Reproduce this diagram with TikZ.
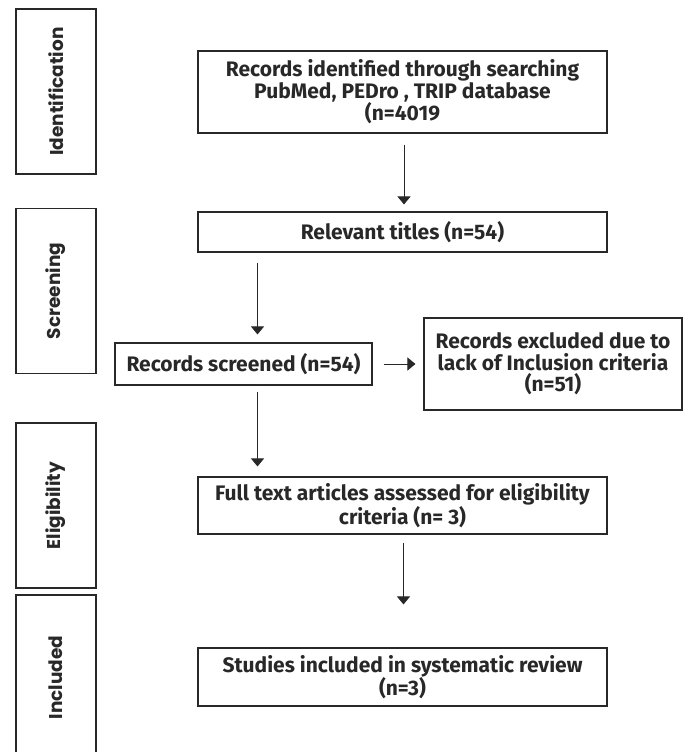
\documentclass[tikz,border=0pt]{standalone}
\usepackage{fontspec}
\setmainfont{Fira Sans}
\newfontfamily\phasefont{Poppins}
\usepackage{tikz}
\usetikzlibrary{arrows.meta,positioning}
\definecolor{ink}{RGB}{40,40,40}
\tikzset{
step_box/.style={
	% The shape:
	rectangle,
	% The border:
	draw=ink,
	line width=1.1pt,
	% The text:
	align=center,
	text=ink,
	inner sep=0pt,
	font=\fontsize{21}{21.5}\selectfont\bfseries
},
phase_box/.style={
	rectangle,
	draw=ink,
	line width=1.1pt,
	% text runs bottom to top
	rotate=90,
	minimum width=165pt,
	minimum height=80pt,
	text=ink,
	font=\phasefont\fontsize{18.5}{20}\selectfont\bfseries
},
flow_arrow/.style={
	draw=ink,
	line width=1pt,
	-{Triangle[length=8pt,width=13pt]}
}
}
\begin{document}
\begin{tikzpicture}[x=1pt,y=-1pt]
			\useasboundingbox (0,0) rectangle (683,752);
			\clip (0,0) rectangle (683,752);

			% phases on the left
			\node [phase_box] (identification) at (56, 91.5) {Identification};
			\node [phase_box] (screening) at (56, 291) {Screening};
			\node [phase_box] (eligibility) at (56, 505.5) {Eligibility};
			\node [phase_box] (included) at (56, 677.5) {Included};

			% steps
			\node [step_box, minimum width=409pt, minimum height=82pt] (records) at (402.5, 92)
				{Records identified through searching\\PubMed, PEDro , TRIP database\\(n=4019};
			\node [step_box, minimum width=409pt, minimum height=40pt] (titles) at (402.5, 232)
				{Relevant titles (n=54)};
			\node [step_box, minimum width=257pt, minimum height=42pt] (screened) at (243.5, 364)
				{Records screened (n=54)};
			\node [step_box, minimum width=258pt, minimum height=92pt] (excluded) at (553, 364)
				{Records excluded due to\\lack of Inclusion criteria\\(n=51)};
			\node [step_box, minimum width=409pt, minimum height=57pt] (fulltext) at (402.5, 505.5)
				{Full text articles assessed for eligibility\\criteria (n= 3)};
			\node [step_box, minimum width=409pt, minimum height=58pt] (studies) at (402.5, 677)
				{Studies included in systematic review\\(n=3)};

			% arrows
			\draw [flow_arrow, shorten <=11pt, shorten >=7pt]
				([xshift=1.5pt]records.south) -- ([xshift=1.5pt]titles.north);
			\draw [flow_arrow, shorten <=10pt, shorten >=8pt]
				([xshift=14pt]screened.north |- titles.south) -- ([xshift=14pt]screened.north);
			\draw [flow_arrow, shorten <=11pt, shorten >=8pt]
				(screened.east) -- (excluded.west);
			\draw [flow_arrow, shorten <=6pt, shorten >=10pt]
				([xshift=14pt]screened.south) -- ([xshift=14pt]screened.south |- fulltext.north);
			\draw [flow_arrow, shorten <=8pt, shorten >=43pt]
				([xshift=1pt]fulltext.south) -- ([xshift=1pt]studies.north);
		\end{tikzpicture}
\end{document}
